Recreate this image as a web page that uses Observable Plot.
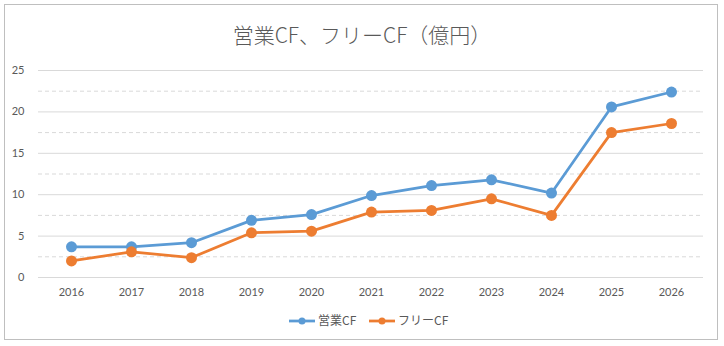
<!DOCTYPE html>
<html><head><meta charset="utf-8">
<script src="https://cdn.jsdelivr.net/npm/d3@7"></script>
<script src="https://cdn.jsdelivr.net/npm/@observablehq/plot@0.6"></script>
<style>
html,body{margin:0;padding:0;background:#fff;}
#wrap{position:relative;width:724px;height:346px;overflow:hidden;font-family:"Noto Sans CJK JP","Noto Sans",sans-serif;}
#frame{position:absolute;left:4px;top:4px;width:712px;height:334px;border:1.5px solid #bfbfbf;box-sizing:content-box;}
#title{position:absolute;left:0;width:724px;top:20px;text-align:center;font-size:21px;color:#595959;line-height:28px;font-weight:300;}
#chart{position:absolute;left:0;top:0;}
#legend{position:absolute;left:0;top:311px;width:724px;height:20px;}
</style></head>
<body><div id="wrap"><div id="frame"></div><div id="title">営業CF、フリーCF（億円）</div><div id="chart"></div><div id="legend"></div></div>
<script>
const years = ["2016","2017","2018","2019","2020","2021","2022","2023","2024","2025","2026"];
const operatingCF = [3.7, 3.7, 4.2, 6.9, 7.6, 9.9, 11.1, 11.8, 10.2, 20.6, 22.4];
const freeCF = [2.0, 3.1, 2.4, 5.4, 5.6, 7.9, 8.1, 9.5, 7.5, 17.5, 18.6];
const seriesNames = ["営業CF", "フリーCF"];
const seriesColors = ["#5b9bd5", "#ed7d31"];
const yTicks = [0, 5, 10, 15, 20, 25];
const yMinor = [2.5, 7.5, 12.5, 17.5, 22.5];

const rows = [];
years.forEach((y, i) => {
  rows.push({year: y, value: operatingCF[i], series: seriesNames[0]});
  rows.push({year: y, value: freeCF[i], series: seriesNames[1]});
});

const font = "Lato, 'Noto Sans', sans-serif";
const chart = Plot.plot({
  width: 724, height: 300,
  marginTop: 70, marginBottom: 23, marginLeft: 38, marginRight: 21,
  style: {fontFamily: font, fontSize: "11px", color: "#595959", background: "transparent"},
  x: {type: "point", domain: years, range: [68.3, 673], padding: 0, label: null, tickSize: 0, tickPadding: 11},
  y: {domain: [0, 25], ticks: yTicks, label: null, tickSize: 0, tickPadding: 14},
  color: {domain: seriesNames, range: seriesColors},
  marks: [
    Plot.ruleY(yMinor, {stroke: "#d9d9d9", strokeDasharray: "4,3", strokeWidth: 1}),
    Plot.ruleY(yTicks, {stroke: "#d9d9d9", strokeWidth: 1}),
    Plot.axisX({tickSize: 0, tickPadding: 11, fontSize: 11, fill: "#595959"}),
    Plot.axisY({ticks: yTicks, tickSize: 0, tickPadding: 14, fontSize: 11, fill: "#595959"}),
    Plot.line(rows, {x: "year", y: "value", z: "series", stroke: "series", strokeWidth: 2.75}),
    Plot.dot(rows, {x: "year", y: "value", fill: "series", r: 5.5})
  ]
});
document.getElementById("chart").appendChild(chart);

// legend
const lg = d3.select("#legend").append("svg").attr("width", 724).attr("height", 20);
const items = [{x: 289, tx: 318}, {x: 369, tx: 398}];
seriesNames.forEach((n, i) => {
  const g = lg.append("g");
  g.append("line").attr("x1", items[i].x).attr("x2", items[i].x + 26).attr("y1", 10).attr("y2", 10)
    .attr("stroke", seriesColors[i]).attr("stroke-width", 2.75);
  g.append("circle").attr("cx", items[i].x + 13).attr("cy", 10).attr("r", 3.5).attr("fill", seriesColors[i]);
  g.append("text").attr("x", items[i].tx).attr("y", 10).attr("dy", "0.35em")
    .attr("font-size", 12).attr("fill", "#595959").attr("font-family", "'Noto Sans CJK JP', sans-serif").text(n);
});
</script></body></html>
